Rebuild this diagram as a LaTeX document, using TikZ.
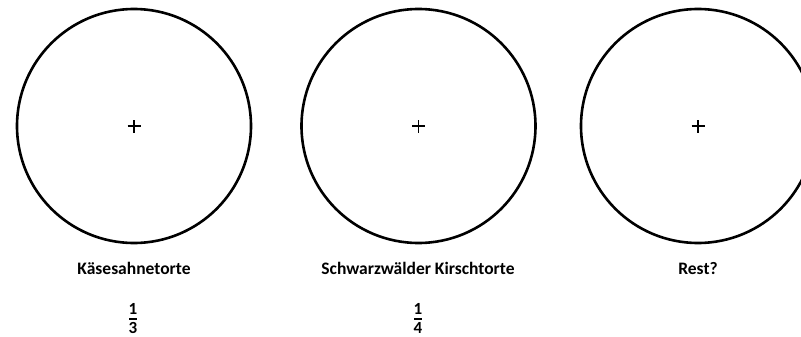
\documentclass[tikz,border=0pt]{standalone}
\usepackage{fontspec}
\setmainfont{Carlito}
\begin{document}
\begin{tikzpicture}[x=1pt,y=-1pt,
  pie/.style={draw=black,line width=2.6pt,circle,minimum size=234pt,inner sep=0pt},
  lbl/.style={anchor=base,inner sep=0pt,font=\fontsize{17.5}{20}\selectfont\bfseries},
  dig/.style={anchor=base,inner sep=0pt,font=\fontsize{17}{19}\selectfont\bfseries},
  crossmark/.style={line width=1.8pt},
  fbar/.style={line width=2pt}]
\useasboundingbox (0,0) rectangle (801,337);
\clip (0,0) rectangle (801,337);
\fill[white] (0,0) rectangle (801,337);
% circles
\node[pie] (c1) at (134,126) {};
\node[pie] (c2) at (418.5,126) {};
\node[pie] (c3) at (698,126) {};
% centre marks
\foreach \c in {c1,c2,c3}{
  \draw[crossmark] ([xshift=-6.5pt]\c.center) -- ([xshift=6.5pt]\c.center);
  \draw[crossmark] ([yshift=-6.5pt]\c.center) -- ([yshift=6.5pt]\c.center);
}
% labels
\node[lbl] (l1) at (134,274) {Käsesahnetorte};
\node[lbl] (l2) at (418,274) {Schwarzwälder Kirschtorte};
\node[lbl] (l3) at (698,274) {Rest?};
% fractions
\node[dig] (n1) at (133,314) {1};
\node[dig] (d1) at (133,333) {3};
\draw[fbar] (129,318.5) -- (137,318.5);
\node[dig] (n2) at (418,314) {1};
\node[dig] (d2) at (418,333) {4};
\draw[fbar] (414,318.5) -- (422,318.5);
\end{tikzpicture}
\end{document}
